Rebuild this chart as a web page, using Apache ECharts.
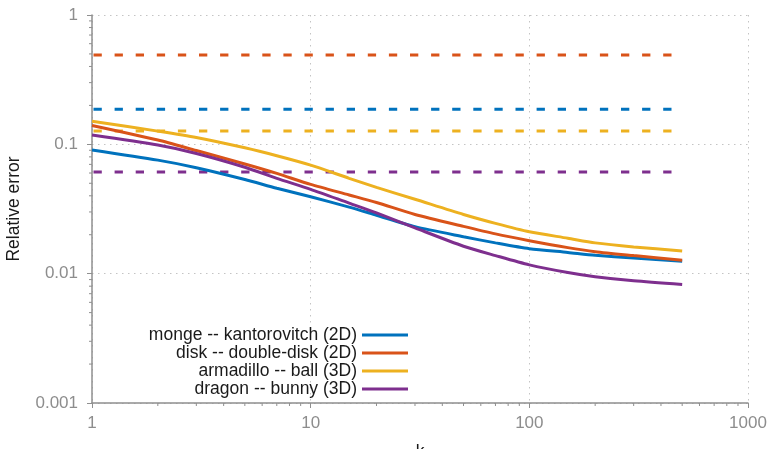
<!DOCTYPE html>
<html>
<head>
<meta charset="utf-8">
<script src="https://cdn.jsdelivr.net/npm/echarts@6/dist/echarts.min.js"></script>
<style>html,body{margin:0;padding:0;background:#fff;}#c{width:768px;height:449px;}</style>
</head>
<body>
<div id="c"></div>
<script>
const ks = [1, 2, 3, 5, 7, 10, 15, 20, 30, 50, 70, 100, 150, 200, 300, 500];
const names = ['monge -- kantorovitch (2D)', 'disk -- double-disk (2D)', 'armadillo -- ball (3D)', 'dragon -- bunny (3D)'];
const monge = [0.0905, 0.0755, 0.066, 0.0535, 0.0457, 0.0393, 0.0327, 0.0283, 0.0231, 0.0193, 0.0173, 0.0156, 0.0146, 0.0139, 0.0132, 0.0125];
const disk = [0.14, 0.108, 0.0895, 0.0705, 0.0596, 0.049, 0.0406, 0.0355, 0.0287, 0.0232, 0.0203, 0.018, 0.0159, 0.0148, 0.0138, 0.0127];
const armadillo = [0.151, 0.1265, 0.113, 0.094, 0.0816, 0.069, 0.0546, 0.0465, 0.0376, 0.0287, 0.0245, 0.0211, 0.0188, 0.0173, 0.0161, 0.015];
const dragon = [0.118, 0.0987, 0.085, 0.0665, 0.0545, 0.0449, 0.0351, 0.0295, 0.0226, 0.0163, 0.0138, 0.0117, 0.0102, 0.00946, 0.0088, 0.00826];
const baseK = [1, 500];
const baselines = [0.187, 0.49, 0.127, 0.061];
const colors = ['#0072BD', '#D95319', '#EDB120', '#7E2F8E'];
const xMinor = [2,3,4,5,6,7,8,9,20,30,40,50,60,70,80,90,200,300,400,500,600,700,800,900];
const yMinor = [0.002,0.003,0.004,0.005,0.006,0.007,0.008,0.009,0.02,0.03,0.04,0.05,0.06,0.07,0.08,0.09,0.2,0.3,0.4,0.5,0.6,0.7,0.8,0.9];

const curves = [monge, disk, armadillo, dragon];
const axisGray = '#8f8f8f';
const labelGray = '#8d8d8d';
const font = 'Liberation Sans, Arial, Helvetica, sans-serif';

const series = [];
curves.forEach((vals, i) => {
  series.push({
    name: names[i], type: 'line', smooth: 0.25, showSymbol: false, silent: true,
    data: ks.map((k, j) => [k, vals[j]]),
    lineStyle: { color: colors[i], width: 3 },
    itemStyle: { color: colors[i] },
    z: 3
  });
});
baselines.forEach((v, i) => {
  series.push({
    name: 'base' + i, type: 'line', showSymbol: false, silent: true,
    data: baseK.map(k => [k, v]),
    lineStyle: { color: colors[i], width: 3, type: [8.3, 12.8], cap: 'butt', dashOffset: -1.5 },
    itemStyle: { color: colors[i] },
    z: 2
  });
});
series.push({
  type: 'custom', silent: true, clip: false, z: 5,
  data: xMinor.map(v => [v, 0.001]),
  renderItem: function (params, api) {
    const p = api.coord([api.value(0), api.value(1)]);
    return { type: 'line', shape: { x1: p[0], y1: p[1], x2: p[0], y2: p[1] + 3 }, style: { stroke: axisGray, lineWidth: 1 } };
  }
});
series.push({
  type: 'custom', silent: true, clip: false, z: 5,
  data: yMinor.map(v => [1, v]),
  renderItem: function (params, api) {
    const p = api.coord([api.value(0), api.value(1)]);
    return { type: 'line', shape: { x1: p[0] - 3, y1: p[1], x2: p[0], y2: p[1] }, style: { stroke: axisGray, lineWidth: 1 } };
  }
});

const chart = echarts.init(document.getElementById('c'), null, { renderer: 'canvas' });
chart.setOption({
  animation: false,
  backgroundColor: '#fff',
  grid: { left: 92, right: 20, top: 15, bottom: 46, containLabel: false, outerBoundsMode: 'none' },
  legend: {
    data: names, orient: 'vertical', align: 'right', right: 360, top: 326, padding: 0,
    itemWidth: 46, itemHeight: 3, itemGap: 0, icon: 'rect',
    textStyle: { fontSize: 17.5, color: '#1a1a1a', fontFamily: font, lineHeight: 18 },
    selectedMode: false
  },
  xAxis: {
    type: 'log', logBase: 10, min: 1, max: 1000,
    name: 'k', nameLocation: 'middle', nameGap: 40,
    nameTextStyle: { fontSize: 17.5, color: '#1a1a1a', fontFamily: font },
    axisLine: { lineStyle: { color: axisGray, width: 1.5 } },
    axisTick: { show: true, length: 5, inside: false, lineStyle: { color: axisGray } },
    axisLabel: { fontSize: 17, color: labelGray, margin: 12, fontFamily: font, formatter: v => String(v) },
    splitLine: { show: true, lineStyle: { color: '#c4c4c4', type: [1.5, 4.5], width: 1 } }
  },
  yAxis: {
    type: 'log', logBase: 10, min: 0.001, max: 1,
    name: 'Relative error', nameLocation: 'middle', nameGap: 69, nameRotate: 90,
    nameTextStyle: { fontSize: 17.5, color: '#1a1a1a', fontFamily: font },
    axisLine: { show: true, lineStyle: { color: axisGray, width: 1.5 } },
    axisTick: { show: true, length: 5, inside: false, lineStyle: { color: axisGray } },
    axisLabel: { fontSize: 17, color: labelGray, margin: 14, fontFamily: font,
      formatter: v => { const m = {1:'1',0.1:'0.1',0.01:'0.01',0.001:'0.001'}; return m[v] !== undefined ? m[v] : String(v); } },
    splitLine: { show: true, lineStyle: { color: '#c4c4c4', type: [1.5, 4.5], width: 1 } }
  },
  series: series
});
</script>
</body>
</html>
